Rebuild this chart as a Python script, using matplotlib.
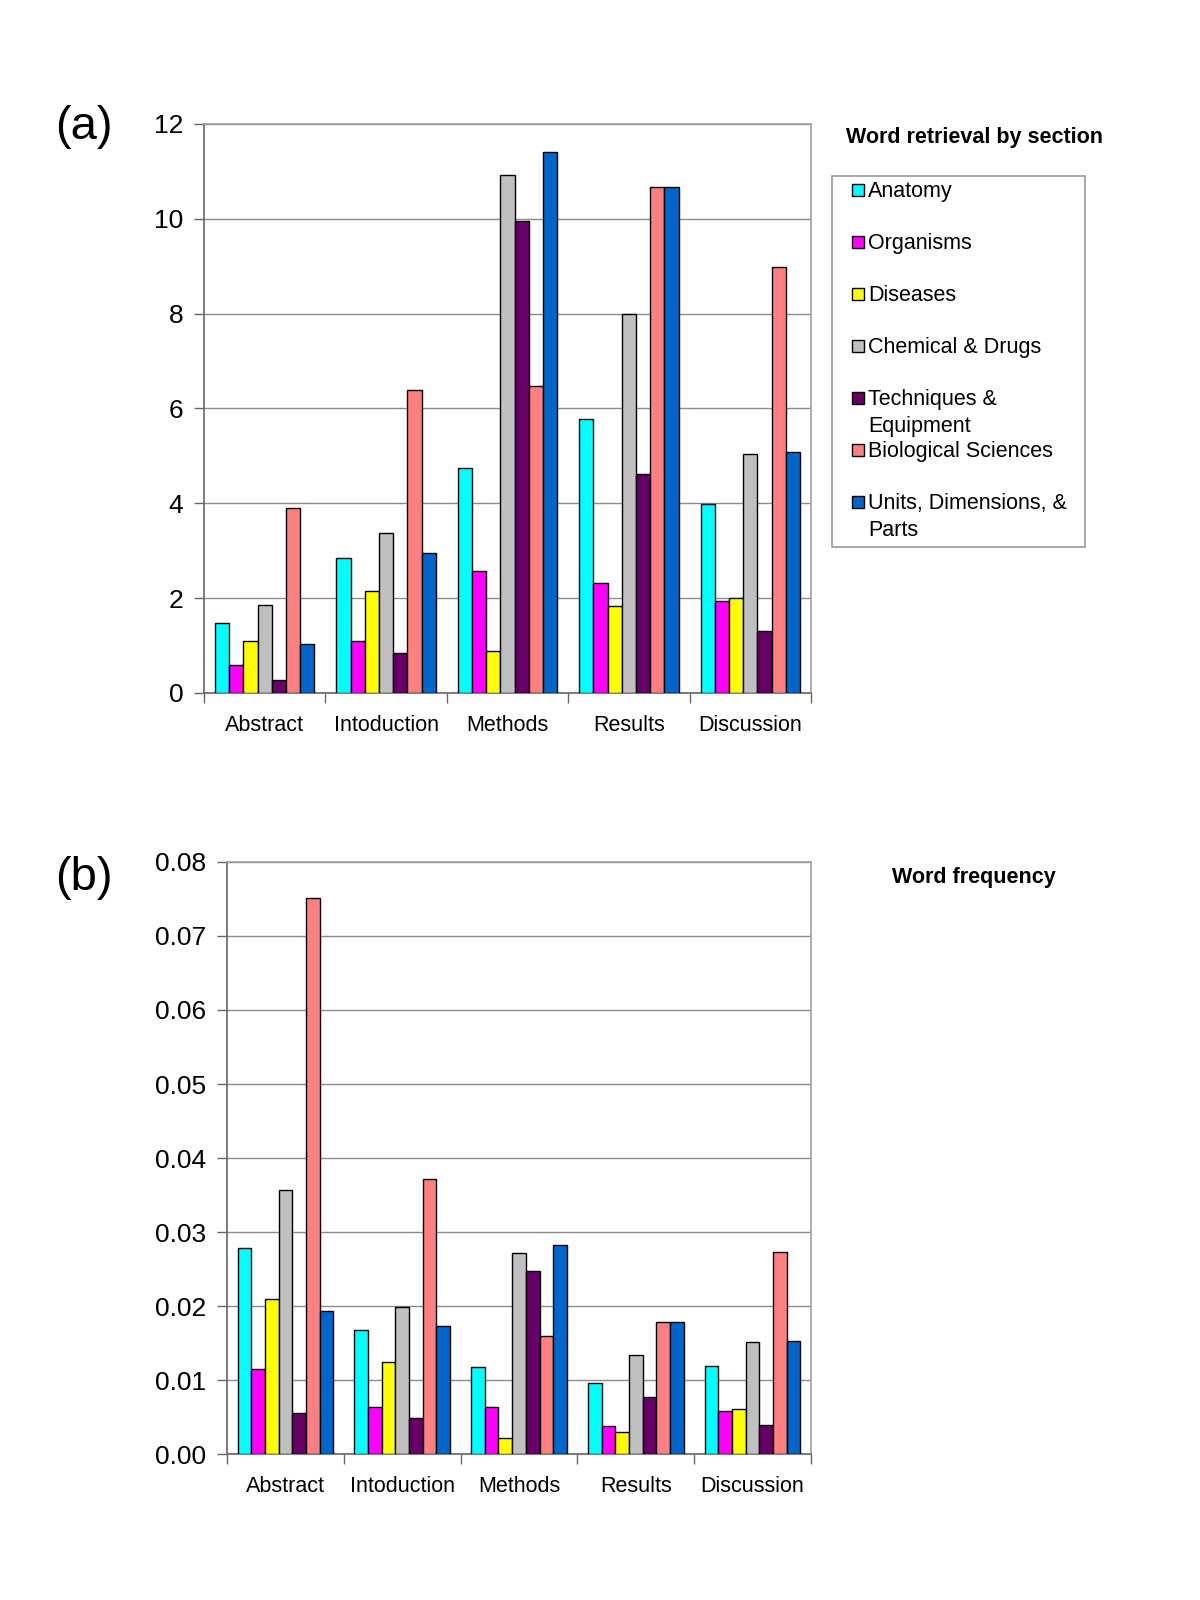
import matplotlib
matplotlib.use("Agg")
import matplotlib.pyplot as plt
from matplotlib.patches import Rectangle
import numpy as np

plt.rcParams['font.family'] = ['Liberation Sans', 'DejaVu Sans']

sections = ['Abstract', 'Intoduction', 'Methods', 'Results', 'Discussion']
categories = ['Anatomy', 'Organisms', 'Diseases', 'Chemical & Drugs',
              'Techniques &\nEquipment', 'Biological Sciences',
              'Units, Dimensions, &\nParts']
colors = ['#00FFFF', '#FF00FF', '#FFFF00', '#C0C0C0', '#660066', '#FF8080', '#0066CC']

# (a) word retrieval by section, one list per category (Abstract..Discussion)
retrieval = [
    [1.48, 2.84, 4.75, 5.78, 3.98],    # Anatomy
    [0.60, 1.09, 2.58, 2.32, 1.94],    # Organisms
    [1.09, 2.16, 0.88, 1.84, 2.00],    # Diseases
    [1.86, 3.38, 10.92, 7.99, 5.03],   # Chemical & Drugs
    [0.28, 0.84, 9.95, 4.62, 1.31],    # Techniques & Equipment
    [3.90, 6.38, 6.48, 10.67, 8.98],   # Biological Sciences
    [1.03, 2.96, 11.41, 10.67, 5.08],  # Units, Dimensions, & Parts
]

# (b) word frequency
frequency = [
    [0.0279, 0.0167, 0.0117, 0.0096, 0.0119],
    [0.0115, 0.0063, 0.0063, 0.0038, 0.0058],
    [0.0209, 0.0124, 0.0021, 0.0030, 0.0061],
    [0.0357, 0.0198, 0.0271, 0.0134, 0.0152],
    [0.0056, 0.0049, 0.0247, 0.0077, 0.0039],
    [0.0751, 0.0371, 0.0159, 0.0178, 0.0273],
    [0.0193, 0.0173, 0.0282, 0.0178, 0.0153],
]

W, H = 1200, 1600
fig = plt.figure(figsize=(12, 16), dpi=100)


def draw_bars(ax, data, ymax, ystep, fmt):
    n = len(data)
    group = 0.82
    w = group / n
    x = np.arange(len(sections))
    for j, vals in enumerate(data):
        ax.bar(x - group / 2 + (j + 0.5) * w, vals, width=w, color=colors[j],
               edgecolor='black', linewidth=1.0, zorder=3)
    ax.set_xlim(-0.5, len(sections) - 0.5)
    ax.set_ylim(0, ymax)
    yt = np.arange(0, ymax + ystep / 2, ystep)
    ax.set_yticks(yt)
    ax.set_yticklabels([fmt.format(v) for v in yt], fontsize=19)
    ax.set_xticks(x)
    ax.set_xticklabels(sections, fontsize=15.5)
    ax.set_xticks(np.arange(-0.5, len(sections)), minor=True)
    ax.tick_params(axis='x', which='major', length=0, pad=16)
    ax.tick_params(axis='x', which='minor', length=7, color='#666666', width=1)
    ax.tick_params(axis='y', length=7, color='#666666', width=1, pad=8)
    ax.grid(axis='y', color='#8c8c8c', linewidth=1, zorder=0)
    for s in ['top', 'right']:
        ax.spines[s].set_color('#a0a0a0')
        ax.spines[s].set_linewidth(1.2)
    for s in ['left', 'bottom']:
        ax.spines[s].set_color('#666666')
        ax.spines[s].set_linewidth(1.2)


# panel (a)
ax1 = fig.add_axes([204 / W, 1 - 693 / H, (811 - 204) / W, (693 - 124) / H])
draw_bars(ax1, retrieval, 12, 2, '{:.0f}')

# panel (b)
ax2 = fig.add_axes([227 / W, 1 - 1454 / H, (811 - 227) / W, (1454 - 862) / H])
draw_bars(ax2, frequency, 0.08, 0.01, '{:.2f}')

fig.text(84 / W, 1 - 127 / H, '(a)', fontsize=34, ha='center', va='center')
fig.text(84 / W, 1 - 878 / H, '(b)', fontsize=34, ha='center', va='center')

fig.text(974 / W, 1 - 138 / H, 'Word retrieval by section', fontsize=15.5,
         fontweight='bold', ha='center', va='center')
fig.text(974 / W, 1 - 877 / H, 'Word frequency', fontsize=15.5,
         fontweight='bold', ha='center', va='center')

# legend box drawn like the spreadsheet one
fig.patches.append(Rectangle((832 / W, 1 - 547 / H), (1085 - 832) / W, (547 - 176) / H,
                             transform=fig.transFigure, facecolor='white',
                             edgecolor='#999999', linewidth=1.2))
step = 52
for i, (name, c) in enumerate(zip(categories, colors)):
    yc = 190 + i * step
    fig.patches.append(Rectangle((852 / W, 1 - (yc + 6) / H), 12 / W, 12 / H,
                                 transform=fig.transFigure, facecolor=c,
                                 edgecolor='black', linewidth=1))
    fig.text(868 / W, 1 - (yc - 9) / H, name, fontsize=15.5, ha='left', va='top',
             linespacing=1.4)

fig.savefig('out.png', dpi=100)
